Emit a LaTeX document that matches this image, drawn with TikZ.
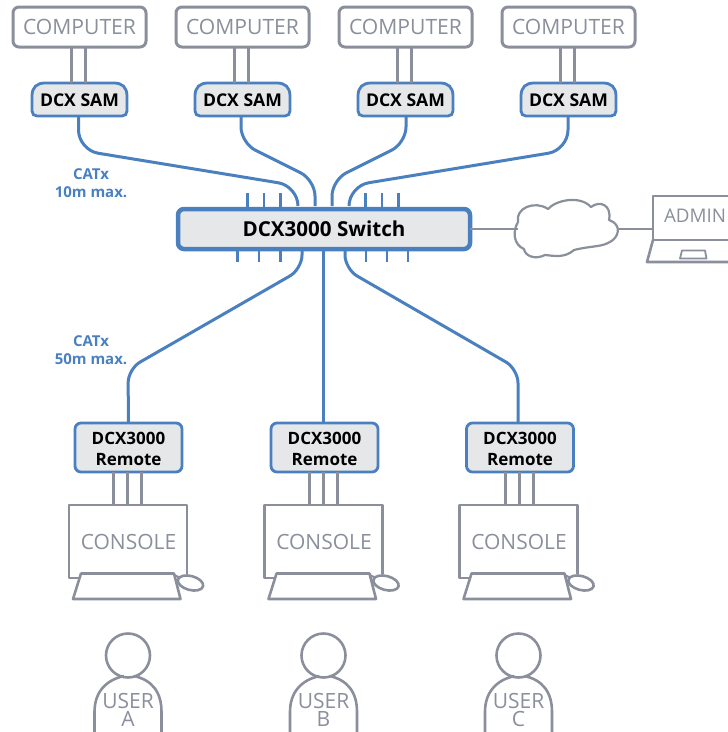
\documentclass[tikz,border=0pt]{standalone}
\usepackage{fontspec}
\setmainfont{Open Sans}
\usetikzlibrary{calc}
\definecolor{dgray}{HTML}{8A8F9B}
\definecolor{dblue}{HTML}{4A80BF}
\definecolor{dfill}{HTML}{E6E7E8}
\newcommand{\px}[1]{\fontsize{#1}{#1}\selectfont}
\tikzset{
  every node/.style={inner sep=0pt,outer sep=0pt},
  graybox/.style={draw=dgray,line width=3pt,fill=white,rounded corners=6pt,text=dgray,font=\px{21.1}},
  sambox/.style={minimum width=95pt,minimum height=33pt,font=\bfseries\px{17.6},text=black},
  remotebox/.style={draw=dblue,line width=2.8pt,fill=dfill,rounded corners=6pt,minimum width=107pt,minimum height=49pt},
  remotetext/.style={font=\bfseries\px{17},align=center,text=black},
  wire/.style={draw=dgray,line width=3pt},
  thin wire/.style={draw=dgray,line width=2.6pt},
  cable/.style={draw=dblue,line width=3pt,rounded corners=20pt},
  tick/.style={draw=dblue,line width=2.4pt},
  outline/.style={draw=dgray,line width=2.6pt,line join=round},
  bluelabel/.style={text=dblue,font=\bfseries\px{15},align=center},
  graylabel/.style={text=dgray,font=\px{21},align=center}
}
\begin{document}
\begin{tikzpicture}[x=1pt,y=-1pt]
\useasboundingbox (0,0) rectangle (728,732);
\clip (0,0) rectangle (728,732);
% computers and SAMs
\foreach \n/\c in {1/79.5,2/242.5,3/405.5,4/568.5}{
  \node[graybox,minimum width=133pt,minimum height=40pt] (comp\n) at (\c,27) {COMPUTER};
  \node[sambox] (sam\n) at (\c,99.5) {};
  \filldraw[draw=dblue,line width=2.8pt,fill=dfill]
    ($(sam\n.south west)+(5,0)$)
    .. controls ($(sam\n.south west)+(2,0)$) and ($(sam\n.south west)+(0,-2)$) .. ($(sam\n.south west)+(0,-5)$)
    -- ($(sam\n.north west)+(0,13)$)
    .. controls ($(sam\n.north west)+(0,4)$) and ($(sam\n.north west)+(5,0)$) .. ($(sam\n.north west)+(13,0)$)
    -- ($(sam\n.north east)+(-13,0)$)
    .. controls ($(sam\n.north east)+(-5,0)$) and ($(sam\n.north east)+(0,4)$) .. ($(sam\n.north east)+(0,13)$)
    -- ($(sam\n.south east)+(0,-5)$)
    .. controls ($(sam\n.south east)+(0,-2)$) and ($(sam\n.south east)+(-2,0)$) .. ($(sam\n.south east)+(-5,0)$) -- cycle;
  \node[sambox] at (\c,100) {DCX SAM};
  \draw[wire] ($(comp\n.south)+(-8,0)$) -- ($(sam\n.north)+(-8,0)$);
  \draw[wire] ($(comp\n.south)+(5.5,0)$) -- ($(sam\n.north)+(5.5,0)$);
}
% switch
\node[draw=dblue,line width=4.5pt,fill=dfill,rounded corners=6pt,minimum width=292pt,minimum height=40pt,font=\bfseries\px{20.6},text=black] (sw) at (324,229) {DCX3000 Switch};
% upstream cables
\coordinate (p1) at (298,206);
\coordinate (p2) at (315,206);
\coordinate (p3) at (332,206);
\coordinate (p4) at (349,206);
\draw[cable] ($(sam1.south)+(-1,0)$) -- (78.5,150) -- (298,186) -- (p1);
\draw[cable,rounded corners=16pt] ($(sam2.south)+(-1.5,0)$) -- (241,143) -- (315,180) -- (p2);
\draw[cable,rounded corners=16pt] ($(sam3.south)+(0.5,0)$) -- (406,143) -- (332,180) -- (p3);
\draw[cable] ($(sam4.south)+(-0.5,0)$) -- (568,150) -- (349,186) -- (p4);
% switch ticks
\foreach \i/\x in {a/247.5,b/264,c/280.5,d/365.5,e/382,f/398.5}{
  \coordinate (ut\i) at (\x,193);
  \draw[tick] (ut\i) -- (ut\i |- sw.north);
}
\foreach \i/\x in {a/237.5,b/259,c/280.5,d/366,e/387,f/408}{
  \coordinate (lt\i) at (\x,262);
  \draw[tick] (lt\i) -- (lt\i |- sw.south);
}
% remotes
\foreach \n/\c/\k/\u in {1/128.5/128/A,2/324.5/323.5/B,3/520/518.5/C}{
  \node[remotebox] (rem\n) at (\c,447.5) {};
  \node[remotetext] (remt\n) at (\c,449) {DCX3000\\[4.5pt]Remote};
  \node[graybox,minimum width=118pt,minimum height=73pt,rounded corners=2pt,draw=none,fill=none,font=\px{21}] (con\n) at (\k,541.5) {\raisebox{-1pt}{\hspace{1pt}CONSOLE}};
  \draw[outline] ($(con\n.south west)+(12,0)$) -- (con\n.south west) -- (con\n.north west) -- (con\n.north east) -- ($(con\n.south east)+(0,-4)$);
  \foreach \dx in {-15,-1,13}{
    \draw[wire] ($(rem\n.south)+(\dx,0)$) -- ($(rem\n.south)+(\dx,33)$);
  }
  \draw[outline,fill=white] (\k-47,573.5) -- (\k+46,573.5) -- (\k+52.5,599) -- (\k-55,599) -- cycle;
  \draw[outline,line width=2.2pt] (\k+46,575) -- (\k+52.5,578);
  \draw[outline,fill=white] (\k+62.5,583) ellipse[x radius=13pt,y radius=7pt,rotate=-15];
  % user
  \node[circle,draw=dgray,line width=2.6pt,minimum size=44pt] (head\n) at (\k,655.5) {};
  \draw[outline] (\k-33.5,732) -- (\k-33.5,712) .. controls (\k-33.5,692) and (\k-22,680) .. (\k-4,676) (\k+6,676) .. controls (\k+24,680) and (\k+33.5,692) .. (\k+33.5,712) -- (\k+33.5,732);
  \node[graylabel] (user\n) at (\k,709.5) {USER\\[-3pt]\u};
}
% downstream cables
\draw[cable,rounded corners=14pt] (sw.south -| 302,0) -- (302,269) -- (128,369) -- (rem1.north);
\draw[cable] (sw.south -| 323,0) -- (rem2.north -| 323,0);
\draw[cable,rounded corners=14pt] (sw.south -| 345,0) -- (345,269) -- (518,369) -- (rem3.north -| 518,0);
% labels
\node[bluelabel] (l10) at (91,183.5) {CATx\\[3pt]10m max.};
\node[bluelabel] (l50) at (91,350) {CATx\\[3pt]50m max.};
% cloud
\coordinate (cloudl) at (518,229);
\coordinate (cloudr) at (618,229);
\filldraw[draw=dgray,line width=2.2pt,fill=white,line join=round]
 (518,222) .. controls (515,208) and (535,200) .. (548,209)
 .. controls (556,200) and (580,195) .. (591,207)
 .. controls (600,200) and (612,205) .. (609,220)
 .. controls (622,224) and (620,238) .. (608,243)
 .. controls (600,247) and (590,246) .. (574,250)
 .. controls (565,258) and (555,256) .. (545,255)
 .. controls (535,260) and (525,256) .. (524,249)
 .. controls (514,245) and (512,232) .. (518,222) -- cycle;
% admin laptop
\node[text=dgray,font=\px{18.8}] (adm) at (695,215.5) {ADMIN};
\coordinate (lap) at (652,229);
\draw[thin wire] (sw.east) -- (cloudl);
\draw[thin wire] (cloudr) -- (lap);
\draw[outline] (732,196) -- (653,196) -- (653,240) -- (732,240);
\draw[outline] (653,240) -- (647,262) -- (732,262);
\draw[outline,line width=1.8pt] (680,258.5) -- (682,250.5) -- (705,250.5) -- (706.5,258.5) -- cycle;
\end{tikzpicture}
\end{document}
